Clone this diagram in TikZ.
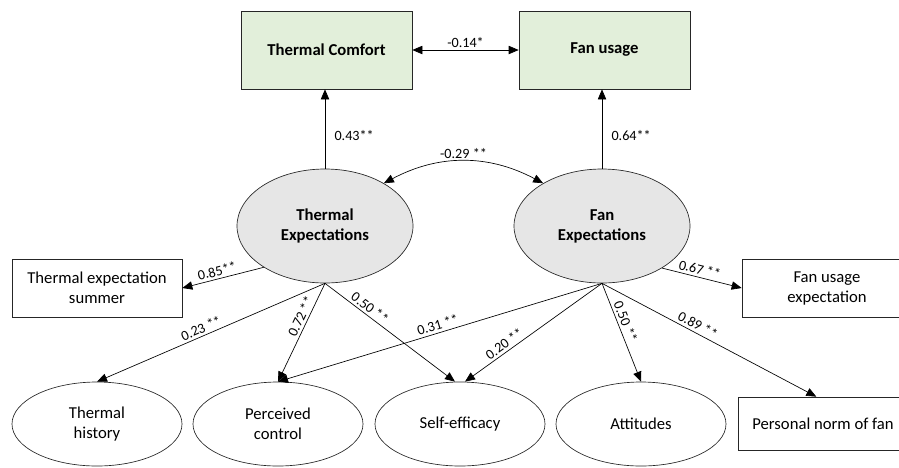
\documentclass[tikz,border=0pt]{standalone}
\usepackage{fontspec}
\setmainfont{Carlito}
\usetikzlibrary{shapes.geometric,arrows.meta}
\definecolor{boxgreen}{RGB}{226,239,218}
\definecolor{latentgray}{RGB}{230,230,230}

\begin{document}
\begin{tikzpicture}[x=0.6pt,y=-0.6pt,
        every node/.style={font=\fontsize{10}{12}\selectfont},
        outcome/.style={draw=black!85,fill=boxgreen,minimum width=102.6pt,minimum height=46.8pt,
            font=\fontsize{10}{12}\selectfont\bfseries},
        latent/.style={ellipse,draw=black!85,fill=latentgray,minimum width=105.6pt,minimum height=68.4pt,
            inner sep=0pt,align=center,font=\fontsize{10}{12}\selectfont\bfseries},
        construct/.style={ellipse,draw=black!85,minimum width=102pt,minimum height=50.4pt,inner sep=0pt,align=center},
        indicator/.style={draw=black!85,minimum width=102pt,align=center},
        effect/.style={-{Triangle[length=6pt,width=5pt]}},
        both/.style={{Triangle[length=6pt,width=5pt]}-{Triangle[length=6pt,width=5pt]}},
        coef/.style={font=\fontsize{8.5}{10}\selectfont,inner sep=1.5pt}]
    \useasboundingbox (0,0) rectangle (899,467);
    \clip (0,0) rectangle (899,467);

    % outcomes
    \node[outcome] (tc) at (326.5,50) {Thermal Comfort};
    \node[outcome] (fu) at (604.5,50) {Fan usage};

    % latent expectations
    \node[latent] (te) at (325,226) {Thermal\\Expectations};
    \node[latent] (fe) at (602,226) {Fan\\Expectations};

    % indicators and predictors
    \node[indicator,minimum height=34.8pt] (tes) at (97,288) {Thermal expectation\\summer};
    \node[indicator,minimum height=34.8pt] (fue) at (827,288) {Fan usage\\expectation};
    \foreach \name/\x/\txt in {th/97/{Thermal\\history}, pc/278/{Perceived\\control},
            se/460/{Self-efficacy}, att/641/{Attitudes}}
        \node[construct] (\name) at (\x,424) {\txt};
    \node[indicator,minimum height=31.8pt] (pn) at (823,423.5) {Personal norm of fan};

    \draw[both] (tc.east) -- (fu.west) node[coef,above,midway] {-0.14*};
    \draw[effect] (te.north) -- (tc.south -| te.north) node[coef,right,pos=0.42,xshift=4pt] {0.43**};
    \draw[effect] (fe.north) -- (fu.south -| fe.north) node[coef,right,pos=0.42,xshift=4pt] {0.64**};
    \draw[both] (te.36) to[bend left=28] node[coef,above] {-0.29 **} (fe.144);

    \draw[effect] (te.214) -- (tes.east) node[coef,sloped,above,pos=0.55] {0.85**};
    \draw[effect] (fe.325) -- (fue.west) node[coef,sloped,above,pos=0.45] {0.67 **};

    \draw[effect] (te.south) -- (th.north) node[coef,sloped,above,pos=0.53] {0.23 **};
    \draw[effect] (te.south) -- (pc.north) node[coef,sloped,above,pos=0.37] {0.72 **};
    \draw[effect] (te.south) -- ([xshift=-3pt]se.north) node[coef,sloped,above,pos=0.31] {0.50 **};
    \draw[effect] (fe.south) -- (pc.north) node[coef,sloped,above,pos=0.5] {0.31 **};
    \draw[effect] (fe.south) -- ([xshift=3pt]se.north) node[coef,sloped,above,pos=0.68] {0.20 **};
    \draw[effect] (fe.south) -- (att.north) node[coef,sloped,above,pos=0.42] {0.50 **};
    \draw[effect] (fe.south) -- ([xshift=-4pt]pn.north) node[coef,sloped,above,pos=0.43] {0.89 **};
\end{tikzpicture}
\end{document}
